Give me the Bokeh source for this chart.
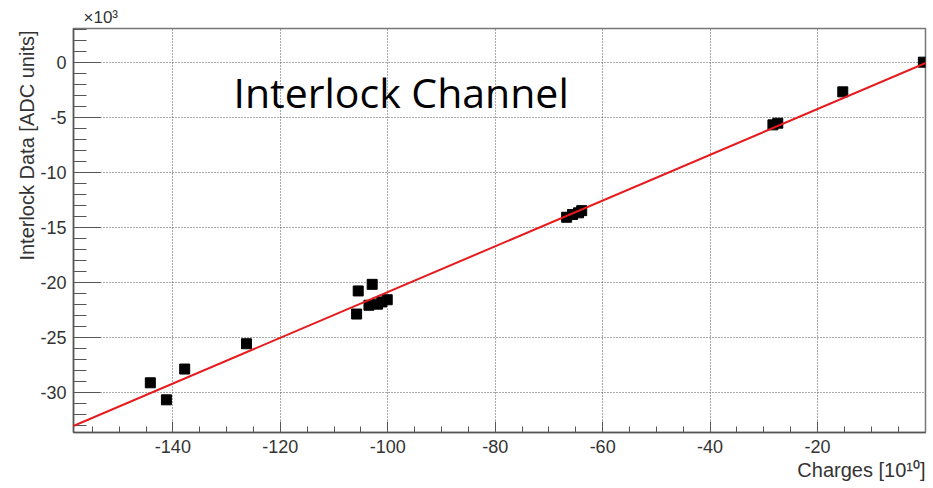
from bokeh.plotting import figure
from bokeh.models import Label, Slope, FixedTicker, Range1d, ColumnDataSource, Title
from bokeh.embed import file_html
from bokeh.resources import INLINE

# ---- data ----
charges = [-144.2, -141.2, -137.8, -126.3, -105.8, -105.5, -103.5, -102.9, -101.9,
           -101.1, -100.1, -66.7, -65.6, -64.5, -63.9, -28.3, -27.4, -15.3, -0.3]
adc_k = [-29.15, -30.7, -27.9, -25.6, -22.9, -20.8, -22.1, -20.2, -22.0,
         -21.8, -21.6, -14.1, -13.85, -13.7, -13.5, -5.7, -5.55, -2.7, 0.0]
fit_slope = 0.208
fit_intercept = -0.1

x_major_ticks = [-140, -120, -100, -80, -60, -40, -20]
x_minor_ticks = [-155, -150, -145, -140, -135, -130, -125, -120, -115, -110, -105, -100,
                 -95, -90, -85, -80, -75, -70, -65, -60, -55, -50, -45, -40, -35, -30,
                 -25, -20, -15, -10, -5]
y_major_ticks = [-30, -25, -20, -15, -10, -5, 0]
y_minor_ticks = list(range(-33, 4))

title_text = "Interlock Channel"
x_title = "Charges [10\u00b9\u2070]"
y_title = "Interlock Data [ADC units]"
y_exp = "\u00d710\u00b3"

XMIN, XMAX = -158.5, 0.1
YMIN, YMAX = -33.67, 3.06

W, H = 933, 488
BL, BR, BT, BB = 73, 8, 28, 56

p = figure(width=W, height=H, x_range=Range1d(XMIN, XMAX), y_range=Range1d(YMIN, YMAX),
           output_backend="svg", toolbar_location=None,
           min_border_left=BL, min_border_right=BR, min_border_top=BT, min_border_bottom=BB)
p.background_fill_color = "white"
p.border_fill_color = "white"
p.outline_line_color = "#777777"
p.outline_line_width = 1.5

ax_col = "#555555"
lab_col = "#333333"
for ax in (p.xaxis[0], p.yaxis[0]):
    ax.axis_line_color = ax_col
    ax.axis_line_width = 1.5
    ax.major_tick_line_color = ax_col
    ax.minor_tick_line_color = ax_col
    ax.major_tick_out = 0
    ax.minor_tick_out = 0
    ax.major_label_text_font = "Liberation Sans"
    ax.major_label_text_font_size = "18px"
    ax.major_label_text_color = lab_col

p.xaxis.ticker = FixedTicker(ticks=x_major_ticks, minor_ticks=x_minor_ticks)
p.yaxis.ticker = FixedTicker(ticks=y_major_ticks, minor_ticks=y_minor_ticks)
p.xaxis.major_label_overrides = {t: str(t) for t in x_major_ticks}
p.yaxis.major_label_overrides = {t: str(t) for t in y_major_ticks}
p.xaxis.major_tick_in = 11
p.xaxis.minor_tick_in = 6
p.yaxis.major_tick_in = 27
p.yaxis.minor_tick_in = 13
p.xaxis.major_label_standoff = 7
p.yaxis.major_label_standoff = 7

for g in (p.xgrid[0], p.ygrid[0]):
    g.grid_line_color = "#555555"
    g.grid_line_dash = "1 2"
    g.grid_line_width = 1

src = ColumnDataSource(dict(x=charges, y=adc_k))
p.scatter("x", "y", source=src, marker="square", size=10, color="black")

p.add_layout(Slope(gradient=fit_slope, y_intercept=fit_intercept,
                   line_color="#e8191c", line_width=2))

# axis titles (ROOT style: aligned to the frame's end)
p.add_layout(Title(text=x_title, align="right", text_font="Liberation Sans",
                   text_font_size="20px", text_font_style="normal", text_color=lab_col,
                   standoff=2), "below")
p.add_layout(Title(text=y_title, align="right", offset=2, text_font="Liberation Sans",
                   text_font_size="20px", text_font_style="normal", text_color=lab_col,
                   standoff=0), "left")
p.add_layout(Title(text=y_exp, align="left", offset=10, text_font="Liberation Sans",
                   text_font_size="17px", text_font_style="normal", text_color=lab_col,
                   standoff=3), "above")

# big in-plot label
sx = (W - BL - BR) / (XMAX - XMIN)
sy = (H - BT - BB) / (YMAX - YMIN)
p.add_layout(Label(x=XMIN + (233 - BL) / sx, y=YMAX - (91 - BT) / sy, text=title_text,
                   text_font="Open Sans", text_font_size="41px", text_color="black",
                   text_baseline="alphabetic"))

open("out.html", "w").write(file_html(p, INLINE))
